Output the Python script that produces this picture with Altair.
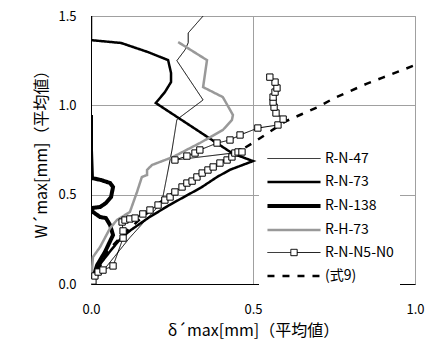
import altair as alt
import pandas as pd

FONT = "Noto Sans CJK JP"

series_names = ["R-N-47", "R-N-73", "R-N-138", "R-H-73", "R-N-N5-N0", "(式9)"]
series_colors = ["black", "black", "black", "#999999", "black", "black"]
series_widths = [1, 2.5, 4, 2.5, 1, 2.5]
series_dashes = [[1, 0], [1, 0], [1, 0], [1, 0], [1, 0], [7, 8]]

# legend glyphs: a plain line, and a line with a square marker in the middle
LINE_GLYPH = "M-4,0H4"
MARKER_GLYPH = "M-4,0H-0.48M0.48,0H4M-0.48,-0.48H0.48V0.48H-0.48Z"
series_glyphs = [LINE_GLYPH, LINE_GLYPH, LINE_GLYPH, LINE_GLYPH, MARKER_GLYPH, LINE_GLYPH]

# δ'max [mm] / W'max [mm] readings for each specimen
rn47_d = [0.0, 0.04, 0.08, 0.12, 0.16, 0.20, 0.22, 0.25, 0.265, 0.346, 0.265, 0.29, 0.30, 0.30, 0.346]
rn47_w = [0.0, 0.08, 0.17, 0.26, 0.34, 0.42, 0.47, 0.75, 0.92, 1.03, 1.25, 1.31, 1.35, 1.405, 1.50]

rn73_d = [0.0, 0.006, 0.031, 0.062, 0.093, 0.123, 0.176, 0.24, 0.30, 0.34, 0.39, 0.43, 0.50,
          0.46, 0.435, 0.20, 0.228, 0.247, 0.247, 0.238, 0.176, 0.093, 0.0, 0.0]
rn73_w = [0.0, 0.039, 0.118, 0.19, 0.257, 0.302, 0.369, 0.44, 0.50, 0.54, 0.60, 0.64, 0.688,
          0.715, 0.733, 1.013, 1.074, 1.13, 1.181, 1.253, 1.298, 1.349, 1.365, 1.50]

rn138_d = [0.0, 0.019, 0.043, 0.068, 0.059, 0.046, 0.028, 0.006, 0.0, 0.028, 0.046, 0.062,
           0.068, 0.059, 0.031, 0.003, 0.0, 0.0]
rn138_w = [0.0, 0.106, 0.179, 0.274, 0.33, 0.369, 0.375, 0.403, 0.425, 0.431, 0.453, 0.487,
           0.543, 0.565, 0.582, 0.593, 0.75, 0.946]

rh73_d = [0.0, 0.006, 0.028, 0.059, 0.08, 0.12, 0.142, 0.157, 0.173, 0.173, 0.188, 0.253,
          0.336, 0.407, 0.435, 0.438, 0.407, 0.346, 0.358, 0.269]
rh73_w = [0.0, 0.151, 0.207, 0.313, 0.358, 0.403, 0.515, 0.599, 0.61, 0.638, 0.666, 0.711,
          0.789, 0.862, 0.918, 0.946, 1.046, 1.102, 1.253, 1.354]

n5n0_d = [0.0, 0.006, 0.012, 0.022, 0.037, 0.068, 0.099, 0.099, 0.096, 0.105, 0.12, 0.136,
          0.16, 0.182, 0.207, 0.228, 0.244, 0.259, 0.281, 0.296, 0.312, 0.327, 0.343, 0.361,
          0.377, 0.398, 0.42, 0.435, 0.444, 0.454, 0.466, 0.259, 0.296, 0.321, 0.336, 0.389,
          0.429, 0.46, 0.515, 0.577, 0.593, 0.571, 0.565, 0.562, 0.562, 0.568, 0.574, 0.568, 0.552]
n5n0_w = [0.0, 0.017, 0.045, 0.067, 0.078, 0.101, 0.257, 0.297, 0.347, 0.358, 0.364, 0.369,
          0.392, 0.414, 0.442, 0.47, 0.487, 0.515, 0.543, 0.565, 0.576, 0.599, 0.621, 0.638,
          0.655, 0.677, 0.694, 0.711, 0.733, 0.739, 0.739, 0.694, 0.716, 0.733, 0.75, 0.789,
          0.806, 0.834, 0.873, 0.89, 0.923, 0.957, 0.99, 1.018, 1.046, 1.074, 1.097, 1.13, 1.158]

eq9_d = [0.0, 0.05, 0.1, 0.15, 0.2, 0.3, 0.4, 0.5, 0.55, 0.6, 0.65, 0.7, 0.75, 0.8, 0.85, 0.9, 0.95, 1.0]
eq9_w = [0.0, 0.18, 0.28, 0.36, 0.44, 0.57, 0.68, 0.79, 0.85, 0.91, 0.95, 0.99, 1.04, 1.08, 1.12,
         1.155, 1.19, 1.225]

curves = [
    (series_names[0], rn47_d, rn47_w),
    (series_names[1], rn73_d, rn73_w),
    (series_names[2], rn138_d, rn138_w),
    (series_names[3], rh73_d, rh73_w),
    (series_names[5], eq9_d, eq9_w),
    (series_names[4], n5n0_d, n5n0_w),
]

rows = []
for name, xs, ys in curves:
    for i, (a, b) in enumerate(zip(xs, ys)):
        rows.append({"series": name, "d": a, "w": b, "step": i})
df = pd.DataFrame(rows)

x_enc = alt.X(
    "d:Q",
    scale=alt.Scale(domain=[0, 1.0], nice=False, zero=False),
    axis=alt.Axis(
        values=[0, 0.5, 1.0], format=".1f", title="δ´max[mm]（平均値）",
        ticks=False, labelPadding=19, titlePadding=6, labelFlush=False,
    ),
)
y_enc = alt.Y(
    "w:Q",
    scale=alt.Scale(domain=[0, 1.5], nice=False, zero=False),
    axis=alt.Axis(
        values=[0, 0.5, 1.0, 1.5], format=".1f", title="W´max[mm]（平均値）",
        ticks=False, labelPadding=15, titlePadding=8, labelFlush=False,
    ),
)

legend = alt.Legend(
    title=None,
    orient="none",
    legendX=168,
    legendY=129,
    padding=6,
    fillColor="white",
    symbolSize=176,
    symbolOffset=20,
    symbolFillColor="white",
    symbolOpacity=1,
    labelOffset=22,
    rowPadding=8,
    labelFont=FONT,
    labelFontSize=14,
    labelColor="black",
)

color_enc = alt.Color("series:O", sort=series_names,
                      scale=alt.Scale(type="ordinal", domain=series_names, range=series_colors),
                      legend=legend)
width_enc = alt.StrokeWidth("series:O", sort=series_names,
                            scale=alt.Scale(type="ordinal", domain=series_names, range=series_widths),
                            legend=legend)
dash_enc = alt.StrokeDash("series:O", sort=series_names,
                          scale=alt.Scale(type="ordinal", domain=series_names, range=series_dashes),
                          legend=legend)
shape_enc = alt.Shape("series:O", sort=series_names,
                      scale=alt.Scale(type="ordinal", domain=series_names, range=series_glyphs),
                      legend=legend)

lines = alt.Chart(df).mark_line(clip=True).encode(
    x=x_enc,
    y=y_enc,
    order="step:Q",
    color=color_enc,
    strokeWidth=width_enc,
    strokeDash=dash_enc,
)

squares = alt.Chart(df[df["series"] == "R-N-N5-N0"]).mark_point(
    shape="square", size=40, fill="white", stroke="black", strokeWidth=1,
    opacity=1, fillOpacity=1, clip=True,
).encode(x="d:Q", y="w:Q")

# carries the glyph scale for the legend only; it draws no points
glyphs = alt.Chart(df.iloc[0:0]).mark_point(filled=False, opacity=1).encode(
    x="d:Q", y="w:Q", shape=shape_enc, color=color_enc,
)

chart = (
    alt.layer(lines, squares, glyphs)
    .properties(
        width=324, height=268,
        padding={"left": 91, "top": 16, "right": 21, "bottom": 61},
        autosize="none",
        background="white",
    )
    .configure_view(stroke="#a0a0a0", strokeWidth=1)
    .configure_axis(
        grid=True, gridColor="#a0a0a0", gridWidth=1,
        domainColor="black", domainWidth=1,
        labelFont=FONT, labelFontSize=13, labelColor="black",
        titleFont=FONT, titleFontSize=16, titleFontWeight="normal", titleColor="black",
    )
)

chart.save("out.html", embed_options={"renderer": "svg", "actions": False})
